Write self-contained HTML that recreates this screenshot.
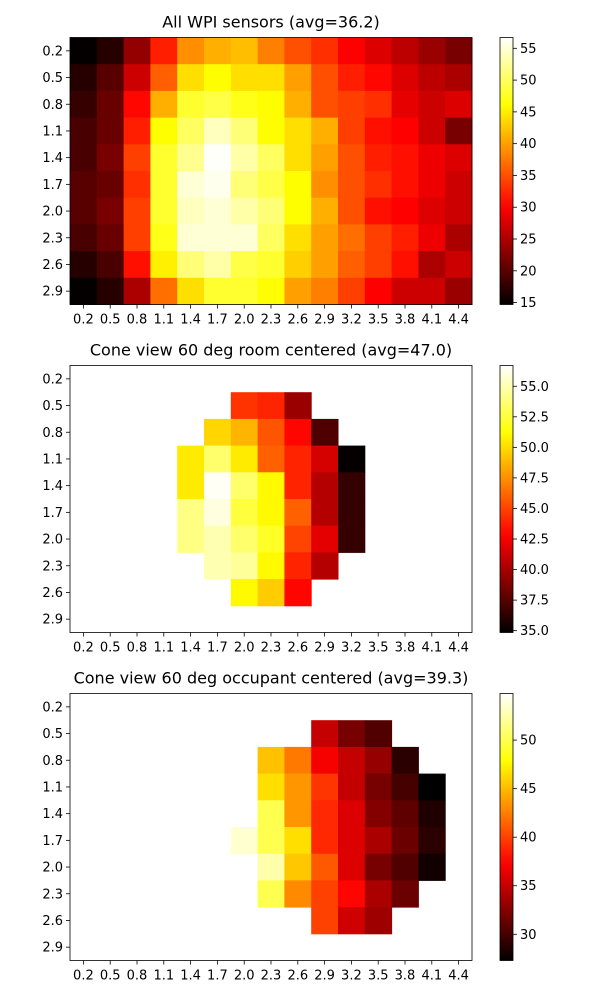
<!DOCTYPE html>
<html><head><meta charset="utf-8"><style>
body{margin:0;background:#fff;}
svg text{font-family:"DejaVu Sans","Liberation Sans",sans-serif;}
</style></head><body>
<svg id="chart" width="600" height="1000" xmlns="http://www.w3.org/2000/svg"></svg>
<script>
const xLabels=["0.2","0.5","0.8","1.1","1.4","1.7","2.0","2.3","2.6","2.9","3.2","3.5","3.8","4.1","4.4"];
const yLabels=["0.2","0.5","0.8","1.1","1.4","1.7","2.0","2.3","2.6","2.9"];
const titles=["All WPI sensors (avg=36.2)","Cone view 60 deg room centered (avg=47.0)","Cone view 60 deg occupant centered (avg=39.3)"];
const ranges=[[14.7,56.7],[34.85,56.7],[27.3,54.8]];
const cbTicks=[[15,20,25,30,35,40,45,50,55],[35,37.5,40,42.5,45,47.5,50,52.5,55],[30,35,40,45,50]];
const cbDecimals=[0,1,0];
const N=null;
const data1=[
[15,17,23.5,32,39,41,42,38,35,33,30,28,26,24,22],
[17,20,27,36,44,46,44,44,40,35,32,30.5,28,26,25],
[18,21,30.5,41,48,49,47,46,41,35,34,33,28.5,27,28],
[19,21,32,46,50,54,51,46,44,41,34,31,30,27,22],
[19,22,34,48,52,56.5,53,50,44,40,35,32,31,29,28],
[20,21,33,48,55,56,51,49,46,39,35,33,31,29,27],
[20,22,34,48,54,55,53,51,46,41,35,31,30,28,27],
[19,21,34,47,55,55,55,50,44,40,37,34,32,29,25],
[17,19,31,45,51,53,49,48,43,40,36,34,31,25,27],
[15,17,25,37,44,48,48,46,40,38,34,30,27,27,24]];
const data2=[
[N,N,N,N,N,N,N,N,N,N,N,N,N,N,N],
[N,N,N,N,N,N,44.5,44,39.7,N,N,N,N,N,N],
[N,N,N,N,N,49.8,48.7,45.6,43,37.3,N,N,N,N,N],
[N,N,N,N,50.5,53.5,50.5,46,44,41.5,35,N,N,N,N],
[N,N,N,N,50.5,56.5,53.5,51,44,40.5,36.5,N,N,N,N],
[N,N,N,N,54,56,52.5,51,46,40.5,36.5,N,N,N,N],
[N,N,N,N,54,55,53.5,52,45,42,36.5,N,N,N,N],
[N,N,N,N,N,55,54.5,51,44,40.5,N,N,N,N,N],
[N,N,N,N,N,N,51,49.5,43,N,N,N,N,N,N],
[N,N,N,N,N,N,N,N,N,N,N,N,N,N,N]];
const data3=[
[N,N,N,N,N,N,N,N,N,N,N,N,N,N,N],
[N,N,N,N,N,N,N,N,N,35,32,30.5,N,N,N],
[N,N,N,N,N,N,N,45.3,42.3,37,35,33.2,29,N,N],
[N,N,N,N,N,N,N,46.5,43.5,39.5,35,32,30,27.3,N],
[N,N,N,N,N,N,N,50,43.5,39,36,32.5,31,28.5,N],
[N,N,N,N,N,N,53.5,50,46.5,39,36,34,31.5,29,N],
[N,N,N,N,N,N,N,52.5,45.5,41,36,32,30.5,28,N],
[N,N,N,N,N,N,N,50,43,40,37.5,34,31.5,N,N],
[N,N,N,N,N,N,N,N,N,40,35.5,33.5,N,N,N],
[N,N,N,N,N,N,N,N,N,N,N,N,N,N,N]];
const datasets=[data1,data2,data3];

function hot(t){t=Math.max(0,Math.min(1,t));
 const r=Math.min(1,t/0.365),g=Math.max(0,Math.min(1,(t-0.365)/0.381)),b=Math.max(0,Math.min(1,(t-0.746)/0.254));
 return `rgb(${Math.round(r*255)},${Math.round(g*255)},${Math.round(b*255)})`;}
const svg=document.getElementById('chart');
const NS='http://www.w3.org/2000/svg';
function mk(tag,attrs,parent){const e=document.createElementNS(NS,tag);for(const k in attrs)e.setAttribute(k,attrs[k]);(parent||svg).appendChild(e);return e;}
const AX=70,AW=402,AH=267,cw=AW/15,ch=AH/10;
const tops=[37.5,365.5,693.5];
const CBX=500,CBW=13;
const defs=mk('defs',{});
datasets.forEach((data,p)=>{
 const top=tops[p];const [vmin,vmax]=ranges[p];
 const xs=i=>AX+i*cw, ys=j=>top+j*ch;
 const cy=v=>top+AH-(v-vmin)/(vmax-vmin)*AH;
 const g=mk('g',{});
 
 
 const t=mk('text',{x:AX+AW/2,y:top-10,'text-anchor':'middle','font-size':16},g);
 t.textContent=titles[p];
 
 
 data.forEach((row,j)=>row.forEach((v,i)=>{if(v===null)return;
  const r=mk('rect',{x:xs(i),y:ys(j),width:cw+0.5,height:ch+0.5,fill:hot((v-vmin)/(vmax-vmin))},g);
  
  }));
 const fr=mk('rect',{x:AX,y:top,width:AW,height:AH,fill:'none',stroke:'#000','stroke-width':0.8},g);
 
 
 xLabels.forEach((l,i)=>{const x=xs(i)+cw/2;
  mk('line',{x1:x,x2:x,y1:top+AH,y2:top+AH+4,stroke:'#000','stroke-width':0.8},g);
  const tx=mk('text',{x:x,y:top+AH+19,'text-anchor':'middle','font-size':13},g);tx.textContent=l;
  
  });
 yLabels.forEach((l,j)=>{const y=ys(j)+ch/2;
  mk('line',{x1:AX-4,x2:AX,y1:y,y2:y,stroke:'#000','stroke-width':0.8},g);
  const ty=mk('text',{x:AX-7,y:y+4.5,'text-anchor':'end','font-size':13},g);ty.textContent=l;
  
  });
 const grad=mk('linearGradient',{id:'cb'+p,x1:0,y1:1,x2:0,y2:0},defs);
 for(let k=0;k<=20;k++)mk('stop',{offset:k/20,'stop-color':hot(k/20)},grad);
 const cb=mk('rect',{x:CBX,y:top,width:CBW,height:AH,fill:`url(#cb${p})`,stroke:'#000','stroke-width':0.8},g);
 
 
 cbTicks[p].forEach(v=>{const y=cy(v);
  mk('line',{x1:CBX+CBW,x2:CBX+CBW+4,y1:y,y2:y,stroke:'#000','stroke-width':0.8},g);
  const tc=mk('text',{x:CBX+CBW+7,y:y+4.5,'font-size':13},g);tc.textContent=v.toFixed(cbDecimals[p]);
  
  });
});
</script>
</body></html>
